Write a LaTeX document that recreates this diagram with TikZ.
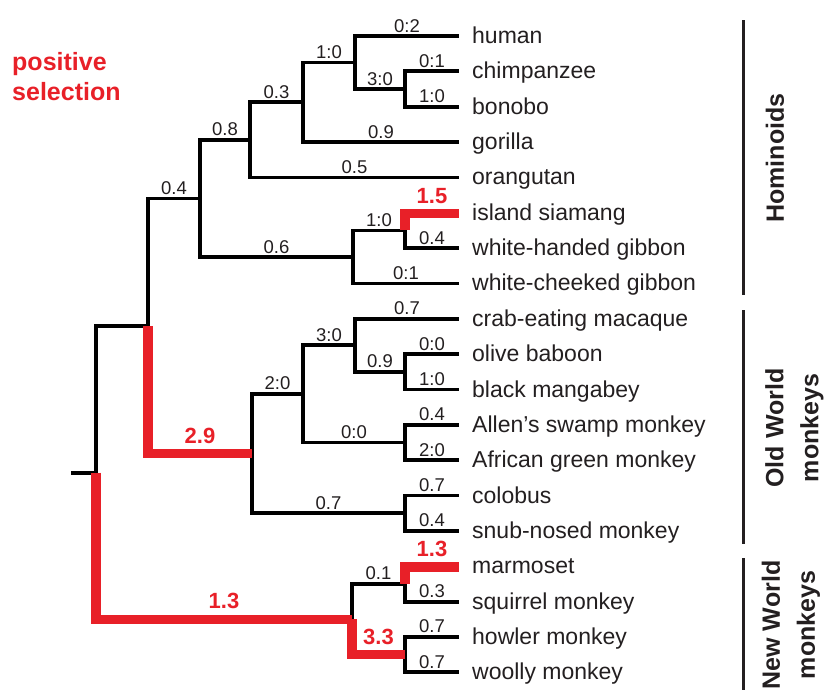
\documentclass[tikz,border=0pt]{standalone}
\usepackage{fontspec}
\setmainfont{Liberation Sans}
\definecolor{psred}{RGB}{232,32,40}
\definecolor{ink}{RGB}{35,31,32}
\begin{document}
\begin{tikzpicture}[x=1pt,y=-1pt,
  br/.style={line width=3.8pt, draw=black, line join=miter, line cap=butt},
  rbr/.style={line width=9.5pt, draw=psred, line join=miter, line cap=butt},
  bl/.style={pos=0.75, anchor=base, inner sep=0pt, yshift=4pt, font=\fontsize{18.5}{22}\selectfont, text=ink},
  rl/.style={pos=0.75, anchor=base, inner sep=0pt, yshift=10.5pt, font=\bfseries\fontsize{22}{26}\selectfont, text=psred},
  leaf/.style={anchor=base west, inner sep=0pt, font=\fontsize{23}{28}\selectfont, text=ink},
  grp/.style={rotate=90, align=center, inner sep=0pt, font=\bfseries\fontsize{25}{35}\selectfont, text=ink},
  bar/.style={line width=3pt, draw=ink},
  sel/.style={anchor=base west, inner sep=0pt, font=\bfseries\fontsize{25}{30}\selectfont, text=psred},
]
\useasboundingbox (0,0) rectangle (825,694);

% leaf tips
\coordinate (human)     at (459,36.0);
\coordinate (chimp)     at (459,71.35);
\coordinate (bonobo)    at (459,106.7);
\coordinate (gorilla)   at (459,142.05);
\coordinate (orangutan) at (459,177.4);
\coordinate (siamang)   at (459,213.5);
\coordinate (whgibbon)  at (459,248.1);
\coordinate (wcgibbon)  at (459,283.45);
\coordinate (macaque)   at (459,318.8);
\coordinate (baboon)    at (459,354.15);
\coordinate (mangabey)  at (459,389.5);
\coordinate (allen)     at (459,424.85);
\coordinate (african)   at (459,460.2);
\coordinate (colobus)   at (459,495.55);
\coordinate (snub)      at (459,530.9);
\coordinate (marmoset)  at (459,567);
\coordinate (squirrel)  at (459,601.6);
\coordinate (howler)    at (459,636.95);
\coordinate (woolly)    at (459,672.3);

% internal nodes
\coordinate (nPan)      at (405,89.0);
\coordinate (nHomoPan)  at (355,62.5);
\coordinate (nHominine) at (303,102.3);
\coordinate (nGreatApe) at (250,139.9);
\coordinate (nSW)       at (405,230.4);
\coordinate (nGibbon)   at (353,257.0);
\coordinate (nHominoid) at (200,198.5);
\coordinate (nBM)       at (405,371.8);
\coordinate (nPapio)    at (355,345.3);
\coordinate (nAA)       at (405,442.5);
\coordinate (nCerco)    at (303,393.9);
\coordinate (nColob)    at (405,513.2);
\coordinate (nOWM)      at (252,453.6);
\coordinate (nCatarrh)  at (148,326.0);
\coordinate (nMS)       at (405,583.9);
\coordinate (nHW)       at (405,654.6);
\coordinate (nNWM)      at (352,619.3);
\coordinate (root)      at (96,472.7);
\coordinate (stub)      at (71,472.7);

% black branches
\draw[br] (stub) -- (root);
\draw[br] (root) |- (nCatarrh);
\draw[br] (nCatarrh) |- node[bl]{0.4} (nHominoid);
\draw[br] (nHominoid) |- node[bl]{0.8} (nGreatApe);
\draw[br] (nHominoid) |- node[bl]{0.6} (nGibbon);
\draw[br] (nGreatApe) |- node[bl]{0.3} (nHominine);
\draw[br] (nGreatApe) |- node[bl]{0.5} (orangutan);
\draw[br] (nHominine) |- node[bl]{1:0} (nHomoPan);
\draw[br] (nHominine) |- node[bl]{0.9} (gorilla);
\draw[br] (nHomoPan) |- node[bl]{0:2} (human);
\draw[br] (nHomoPan) |- node[bl]{3:0} (nPan);
\draw[br] (nPan) |- node[bl]{0:1} (chimp);
\draw[br] (nPan) |- node[bl]{1:0} (bonobo);
\draw[br] (nGibbon) |- node[bl]{1:0} (nSW);
\draw[br] (nGibbon) |- node[bl]{0:1} (wcgibbon);
\draw[br] (nSW) |- node[bl]{0.4} (whgibbon);

\draw[br] (nOWM) |- node[bl]{2:0} (nCerco);
\draw[br] (nOWM) |- node[bl]{0.7} (nColob);
\draw[br] (nCerco) |- node[bl]{3:0} (nPapio);
\draw[br] (nCerco) |- node[bl]{0:0} (nAA);
\draw[br] (nPapio) |- node[bl]{0.7} (macaque);
\draw[br] (nPapio) |- node[bl]{0.9} (nBM);
\draw[br] (nBM) |- node[bl]{0:0} (baboon);
\draw[br] (nBM) |- node[bl]{1:0} (mangabey);
\draw[br] (nAA) |- node[bl]{0.4} (allen);
\draw[br] (nAA) |- node[bl]{2:0} (african);
\draw[br] (nColob) |- node[bl]{0.7} (colobus);
\draw[br] (nColob) |- node[bl]{0.4} (snub);

\draw[br] (nNWM) |- node[bl]{0.1} (nMS);
\draw[br] (nMS) |- node[bl]{0.3} (squirrel);
\draw[br] (nHW) |- node[bl]{0.7} (howler);
\draw[br] (nHW) |- node[bl]{0.7} (woolly);

% positive selection branches
\draw[rbr] (nSW) |- node[rl]{1.5} (siamang);
\draw[rbr] (nCatarrh) |- node[rl]{2.9} (nOWM);
\draw[rbr] (root) |- node[rl]{1.3} (nNWM);
\draw[rbr] (nNWM) |- node[rl]{3.3} (nHW);
\draw[rbr] (nMS) |- node[rl]{1.3} (marmoset);

% leaf labels
\node[leaf] (t0)  at (472,43.5)   {human};
\node[leaf] (t1)  at (472,78.85)  {chimpanzee};
\node[leaf] (t2)  at (472,114.2)  {bonobo};
\node[leaf] (t3)  at (472,149.55) {gorilla};
\node[leaf] (t4)  at (472,184.9)  {orangutan};
\node[leaf] (t5)  at (472,220.25) {island siamang};
\node[leaf] (t6)  at (472,255.6)  {white-handed gibbon};
\node[leaf] (t7)  at (472,290.95) {white-cheeked gibbon};
\node[leaf] (t8)  at (472,326.3)  {crab-eating macaque};
\node[leaf] (t9)  at (472,361.65) {olive baboon};
\node[leaf] (t10) at (472,397.0)  {black mangabey};
\node[leaf] (t11) at (472,432.35) {Allen’s swamp monkey};
\node[leaf] (t12) at (472,467.7)  {African green monkey};
\node[leaf] (t13) at (472,503.05) {colobus};
\node[leaf] (t14) at (472,538.4)  {snub-nosed monkey};
\node[leaf] (t15) at (472,573.75) {marmoset};
\node[leaf] (t16) at (472,609.1)  {squirrel monkey};
\node[leaf] (t17) at (472,644.45) {howler monkey};
\node[leaf] (t18) at (472,679.8)  {woolly monkey};

% group bars and labels
\coordinate (hA) at (743,20);  \coordinate (hB) at (743,295);
\coordinate (oA) at (743,310); \coordinate (oB) at (743,544);
\coordinate (wA) at (743,558); \coordinate (wB) at (743,690);
\draw[bar] (hA) -- (hB);
\draw[bar] (oA) -- (oB);
\draw[bar] (wA) -- (wB);
\node[grp] (ghom) at (775,158) {Hominoids};
\node[grp] (gowm) at (794.5,428) {Old World\\monkeys};
\node[grp] (gnwm) at (791,625) {New World\\monkeys};

% legend
\node[sel] (ps1) at (12,70) {positive};
\node[sel] (ps2) at (12,100) {selection};
\end{tikzpicture}
\end{document}
